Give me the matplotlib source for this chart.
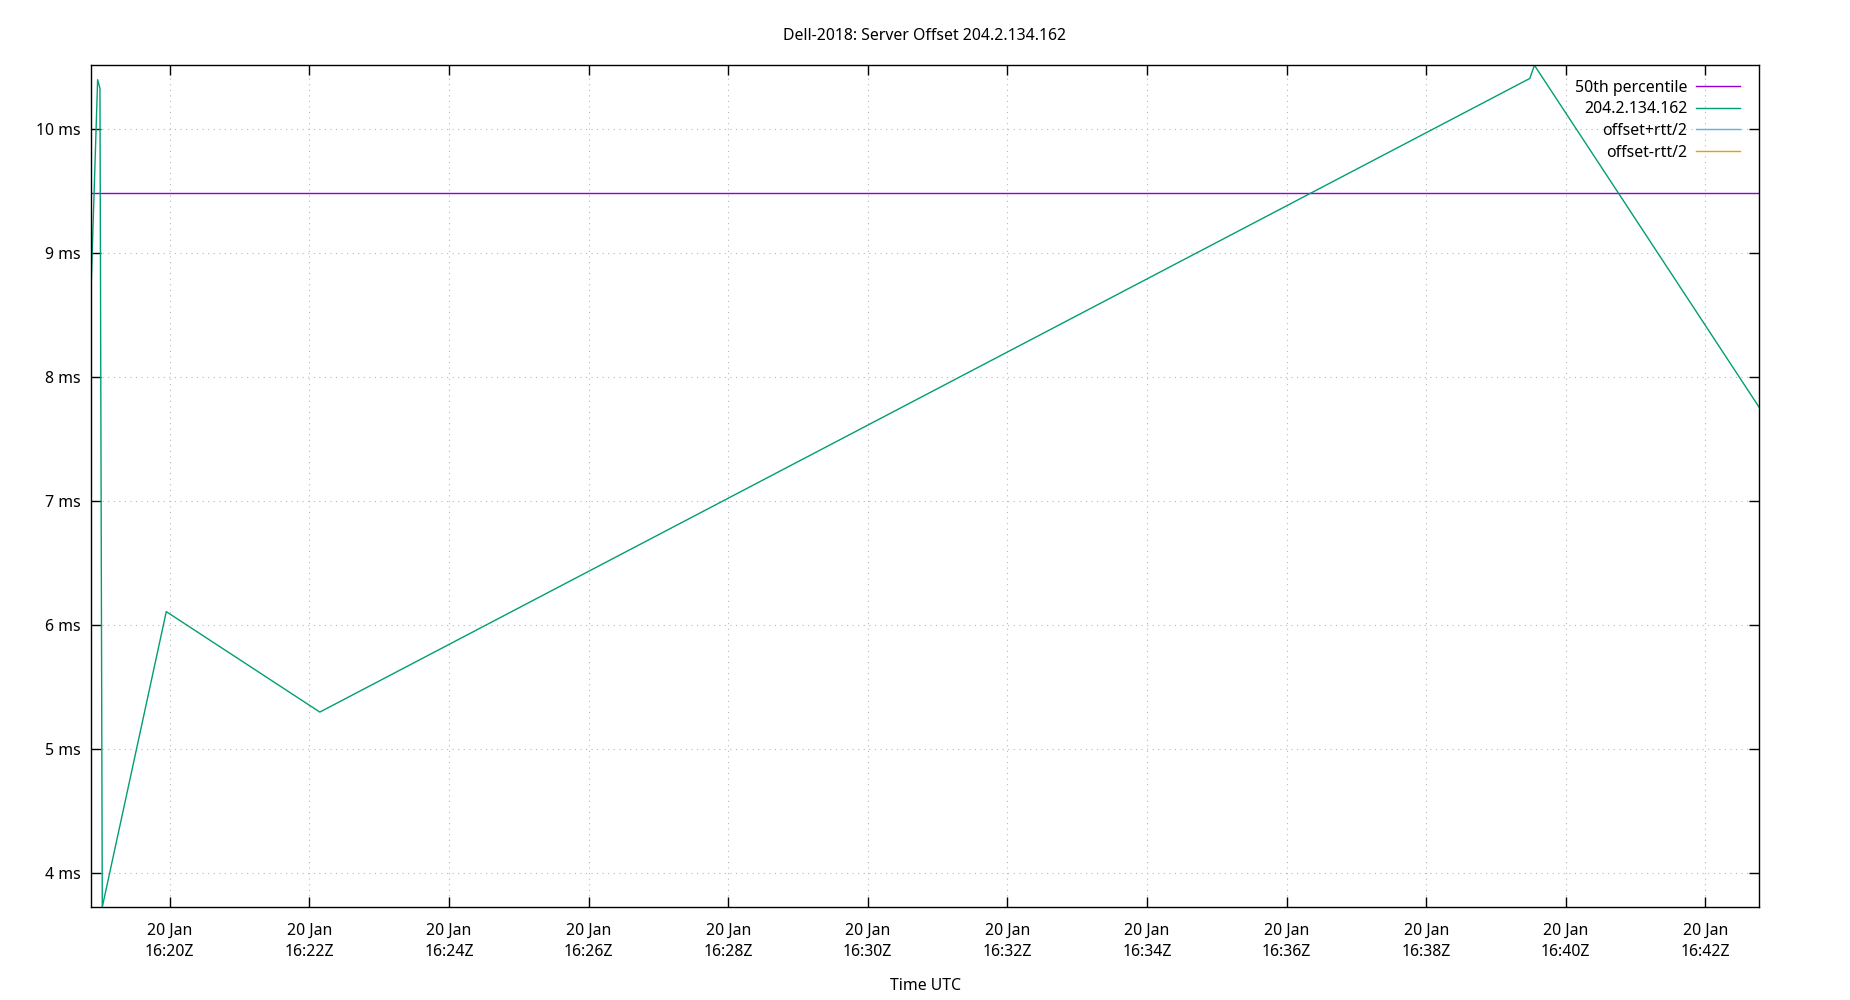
import matplotlib
matplotlib.use("Agg")
import matplotlib.pyplot as plt
import matplotlib.dates as mdates
import numpy as np
from datetime import datetime

# offset samples (UTC, ms)
times = [
    "2018-01-20 16:18:52",
    "2018-01-20 16:18:58",
    "2018-01-20 16:19:00",
    "2018-01-20 16:19:02",
    "2018-01-20 16:19:57",
    "2018-01-20 16:22:09",
    "2018-01-20 16:39:29",
    "2018-01-20 16:39:33",
    "2018-01-20 16:42:46",
]
offset_ms = [8.60, 10.40, 10.33, 3.728, 6.11, 5.30, 10.41, 10.516, 7.76]
median_ms = 9.484

COLOR_MEDIAN = "#9400d3"
COLOR_OFFSET = "#009e73"
COLOR_PLUS = "#56b4e9"
COLOR_MINUS = "#e69f00"

plt.rcParams.update(
    {
        "font.family": ["Noto Sans", "DejaVu Sans"],
        "font.size": 11.4,
    }
)

t = [datetime.strptime(s, "%Y-%m-%d %H:%M:%S") for s in times]

fig = plt.figure(figsize=(18.5, 10), dpi=100)
ax = fig.add_axes([0.049, 0.093, 0.9018, 0.8417])

ax.axhline(median_ms, color=COLOR_MEDIAN, linewidth=1.0, label="50th percentile")
ax.plot(t, offset_ms, color=COLOR_OFFSET, linewidth=1.0, label="204.2.134.162")
# empty series kept for the legend, as in the original
ax.plot([], [], color=COLOR_PLUS, linewidth=1.0, label="offset+rtt/2")
ax.plot([], [], color=COLOR_MINUS, linewidth=1.0, label="offset-rtt/2")

ax.set_xlim(t[0], t[-1])
ax.set_ylim(min(offset_ms), max(offset_ms))

ax.xaxis.set_major_locator(mdates.MinuteLocator(byminute=range(0, 60, 2)))
ax.xaxis.set_major_formatter(mdates.DateFormatter("%d %b\n%H:%MZ"))
ax.set_yticks(np.arange(4, 11))
ax.set_yticklabels([f"{v} ms" for v in range(4, 11)])

ax.tick_params(
    direction="in", length=7, width=1, top=True, right=True, colors="black"
)
ax.tick_params(axis="x", pad=11.5)
ax.tick_params(axis="y", pad=7)
for lab in ax.get_xticklabels():
    lab.set_linespacing(1.42)
for sp in ax.spines.values():
    sp.set_linewidth(1.0)

ax.grid(True, linestyle=(0, (1, 4)), color="#b8b8b8", linewidth=0.8)
ax.set_axisbelow(True)

leg = ax.legend(
    loc="upper right",
    bbox_to_anchor=(0.997, 1.0),
    frameon=False,
    markerfirst=False,
    handlelength=2.75,
    handletextpad=0.55,
    labelspacing=0.36,
    borderpad=0.15,
    borderaxespad=0.75,
)
for txt in leg.get_texts():
    txt.set_ha("right")

fig.text(0.5, 0.9645, "Dell-2018: Server Offset 204.2.134.162", ha="center", va="center")
fig.text(0.5, 0.0137, "Time UTC", ha="center", va="center")

fig.savefig("out.png", dpi=100)
